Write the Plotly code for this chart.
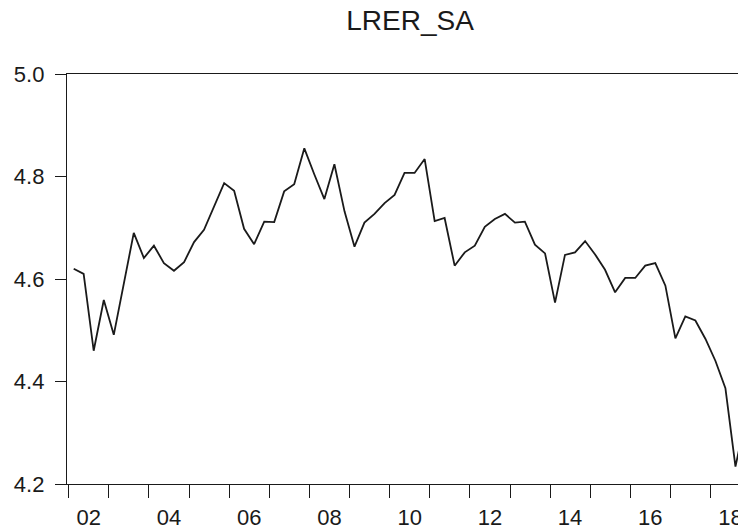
"""
LRER_SA quarterly line chart (EViews style) with Plotly
"""

import pandas as pd
import plotly.graph_objects as go

# quarterly series, 2002Q1 .. 2018Q4
start_quarter = "2002Q1"
end_quarter = "2018Q4"
lrer_sa = [
    4.620, 4.610, 4.460, 4.559, 4.491, 4.590, 4.690, 4.641,
    4.665, 4.631, 4.616, 4.633, 4.672, 4.696, 4.741, 4.787,
    4.772, 4.698, 4.668, 4.712, 4.711, 4.771, 4.785, 4.855,
    4.804, 4.756, 4.824, 4.732, 4.663, 4.710, 4.727, 4.748,
    4.764, 4.807, 4.807, 4.834, 4.713, 4.719, 4.626, 4.652,
    4.665, 4.702, 4.717, 4.727, 4.710, 4.712, 4.667, 4.650,
    4.554, 4.647, 4.652, 4.674, 4.648, 4.618, 4.574, 4.602,
    4.602, 4.626, 4.631, 4.587, 4.484, 4.527, 4.519, 4.483,
    4.440, 4.387, 4.234, 4.327,
]

# axis ticks
year_ticks = list(range(2002, 2019))
label_years = list(range(2002, 2019, 2))
label_text = ["02", "04", "06", "08", "10", "12", "14", "16", "18"]
y_ticks = [4.2, 4.4, 4.6, 4.8, 5.0]
y_text = ["4.2", "4.4", "4.6", "4.8", "5.0"]

FONT = "Liberation Sans, Arial, sans-serif"
INK = "#1a1a1a"

# page body has an 8px margin, so the figure is 8px smaller than the window
W, H = 738, 521

quarters = pd.period_range(start_quarter, end_quarter, freq="Q")
x_dates = [p.start_time + (p.end_time - p.start_time) / 2 for p in quarters]

fig = go.Figure()

fig.add_trace(go.Scatter(
    x=x_dates,
    y=lrer_sa,
    mode="lines",
    line=dict(color=INK, width=1.8),
    hoverinfo="skip",
))

fig.update_layout(
    width=W,
    height=H,
    margin=dict(l=59, r=0, t=66, b=45, autoexpand=False),
    paper_bgcolor="white",
    plot_bgcolor="white",
    showlegend=False,
    font=dict(family=FONT, color=INK, size=22),
    title=dict(
        text="LRER_SA",
        x=402 / W,
        xanchor="center",
        y=1 - 12 / H,
        yanchor="middle",
        font=dict(family=FONT, size=28, color=INK),
    ),
)

fig.update_xaxes(
    type="date",
    range=["2001-12-16", "2018-11-20"],
    automargin=False,
    showgrid=False,
    zeroline=False,
    showline=True,
    linecolor=INK,
    linewidth=1.3,
    mirror=True,
    tickmode="array",
    tickvals=[f"{y}-07-02" for y in label_years],
    ticktext=label_text,
    ticks="outside",
    ticklen=13,
    tickcolor="rgba(0,0,0,0)",
    tickfont=dict(size=22, family=FONT, color=INK),
    minor=dict(
        tickmode="array",
        tickvals=[f"{y}-01-01" for y in year_ticks],
        ticks="outside",
        ticklen=13,
        tickwidth=1.3,
        tickcolor=INK,
        showgrid=False,
    ),
)

fig.update_yaxes(
    range=[4.2, 5.0],
    automargin=False,
    showgrid=False,
    zeroline=False,
    showline=True,
    linecolor=INK,
    linewidth=1.3,
    mirror=False,
    tickmode="array",
    tickvals=y_ticks,
    ticktext=y_text,
    ticks="outside",
    ticklen=11,
    tickwidth=1.3,
    tickcolor=INK,
    ticklabelstandoff=6,
    tickfont=dict(size=22, family=FONT, color=INK),
)

fig.write_html("out.html")
